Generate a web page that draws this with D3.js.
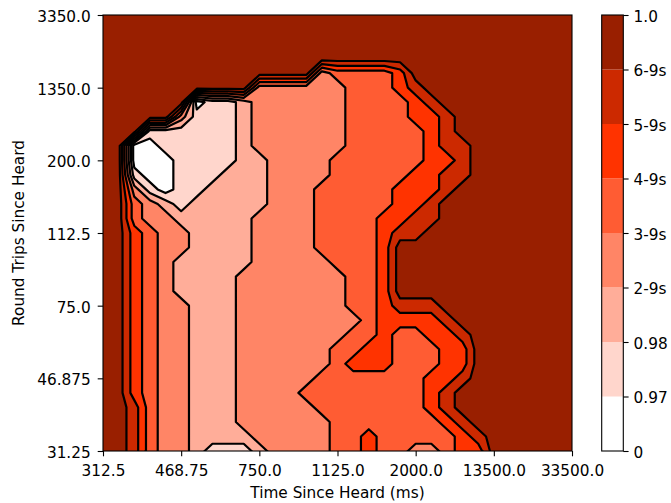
<!DOCTYPE html>
<html>
<head>
<meta charset="utf-8">
<script src="https://cdn.jsdelivr.net/npm/d3@7"></script>
<style>
  body { margin: 0; background: #fff; }
  text { font-family: "DejaVu Sans", sans-serif; }
</style>
</head>
<body>
<div id="chart"></div>
<script>
// tick labels of both axes and of the colour bar
var xLabels = ["312.5", "468.75", "750.0", "1125.0", "2000.0", "13500.0", "33500.0"];
var yLabels = ["31.25", "46.875", "75.0", "112.5", "200.0", "1350.0", "3350.0"];
var levelLabels = ["0", "0.97", "0.98", "2-9s", "3-9s", "4-9s", "5-9s", "6-9s", "1.0"];
var levelColors = ["#ffffff", "#ffd6cc", "#ffad99", "#ff8566", "#ff5c33", "#ff3300", "#cc2900", "#991f00"];

// band index (0 = below 0.97 ... 7 = above 6-9s),
// 31 columns (312.5 -> 33500.0), rows from 31.25 (first) up to 3350.0 (last)
var bandRows = [
  "7764332111 2333344544 3345577777 7",
  "7764332222 3333344544 4445677777 7",
  "7764332223 3333344444 4456777777 7",
  "7764332223 3333444444 4567777777 7",
  "7754332223 3334444444 4567777777 7",
  "7754332223 3333444444 4556777777 7",
  "7754332223 3333345554 4455777777 7",
  "7754332223 3333344554 4455777777 7",
  "7754332223 3333334454 4556777777 7",
  "7754332223 3333333455 5567777777 7",
  "7754332223 3333334456 6677777777 7",
  "7754322223 3333334457 7777777777 7",
  "7754322223 3333334457 7777777777 7",
  "7754322222 3333344457 7777777777 7",
  "7754332222 3333444457 7777777777 7",
  "7754332222 3333444456 6777777777 7",
  "7743322222 3333444455 6677777777 7",
  "7743212222 2333444445 5677777777 7",
  "7731011222 2333444445 5567777777 7",
  "7710011122 2333344444 5566777777 7",
  "7700011112 2333344444 4556777777 7",
  "7700111112 3333334444 4566777777 7",
  "7771111112 3333334444 4567777777 7",
  "7777731112 3333334444 5567777777 7",
  "7777770112 3333334444 5677777777 7",
  "7777777777 3333334445 6777777777 7",
  "7777777777 7777344445 7777777777 7",
  "7777777777 7777777777 7777777777 7",
  "7777777777 7777777777 7777777777 7",
  "7777777777 7777777777 7777777777 7",
  "7777777777 7777777777 7777777777 7"
];

const width = 671, height = 503;
const plot = { left: 103, right: 572, top: 15, bottom: 451 };
const bar = { left: 601.7, right: 623.3 };
const fs = "15.3px";

var svg = d3.select("#chart").append("svg")
  .attr("width", width)
  .attr("height", height);

// grid values: middle of each band
var grid = bandRows.map(r => r.replace(/ /g, "").split("").map(Number));
var ny = grid.length, nx = grid[0].length;
var values = [];
grid.forEach(r => r.forEach(v => values.push(v + 0.5)));

var gx = d3.scaleLinear().domain([0.5, nx - 0.5]).range([plot.left, plot.right]);
var gy = d3.scaleLinear().domain([0.5, ny - 0.5]).range([plot.bottom, plot.top]);
var path = d3.geoPath(d3.geoTransform({
  point: function (x, y) { this.stream.point(gx(x), gy(y)); }
}));

var contours = d3.contours().size([nx, ny]).thresholds(d3.range(1, 8))(values);

svg.append("clipPath").attr("id", "clip")
  .append("rect")
  .attr("x", plot.left).attr("y", plot.top)
  .attr("width", plot.right - plot.left).attr("height", plot.bottom - plot.top);

var area = svg.append("g").attr("clip-path", "url(#clip)");

area.append("rect")
  .attr("x", plot.left).attr("y", plot.top)
  .attr("width", plot.right - plot.left).attr("height", plot.bottom - plot.top)
  .attr("fill", levelColors[0]);

area.selectAll(".band")
  .data(contours)
  .join("path")
  .attr("class", "band")
  .attr("d", path)
  .attr("fill", d => levelColors[d.value]);

area.selectAll(".line")
  .data(contours)
  .join("path")
  .attr("class", "line")
  .attr("d", path)
  .attr("fill", "none")
  .attr("stroke", "#000")
  .attr("stroke-width", 2.2)
  .attr("stroke-linejoin", "round");

// frame
svg.append("rect")
  .attr("x", plot.left).attr("y", plot.top)
  .attr("width", plot.right - plot.left).attr("height", plot.bottom - plot.top)
  .attr("fill", "none").attr("stroke", "#000").attr("stroke-width", 1.1);

// axes
var x = d3.scalePoint().domain(xLabels).range([plot.left, plot.right]);
var y = d3.scalePoint().domain(yLabels).range([plot.bottom, plot.top]);

var xAxis = svg.append("g")
  .attr("transform", "translate(0," + plot.bottom + ")")
  .call(d3.axisBottom(x).tickSize(5.3).tickPadding(8.8));
var yAxis = svg.append("g")
  .attr("transform", "translate(" + plot.left + ",0)")
  .call(d3.axisLeft(y).tickSize(5.3).tickPadding(7));
yAxis.selectAll("text").attr("dy", "0.42em");

// colour bar
var cb = d3.scaleLinear().domain([0, 8]).range([plot.bottom, plot.top]);
svg.append("g").selectAll("rect")
  .data(d3.range(8))
  .join("rect")
  .attr("x", bar.left)
  .attr("width", bar.right - bar.left)
  .attr("y", d => cb(d + 1))
  .attr("height", d => cb(d) - cb(d + 1))
  .attr("fill", d => levelColors[d]);
svg.append("rect")
  .attr("x", bar.left).attr("y", plot.top)
  .attr("width", bar.right - bar.left).attr("height", plot.bottom - plot.top)
  .attr("fill", "none").attr("stroke", "#000").attr("stroke-width", 1.1);
var cAxis = svg.append("g")
  .attr("transform", "translate(" + bar.right + ",0)")
  .call(d3.axisRight(cb).tickValues(d3.range(9)).tickFormat(i => levelLabels[i]).tickSize(5.3).tickPadding(5));
cAxis.selectAll("text").attr("dy", "0.42em");

[xAxis, yAxis, cAxis].forEach(function (g) {
  g.select(".domain").remove();
  g.selectAll("line").attr("stroke", "#000").attr("stroke-width", 1.1);
  g.selectAll("text").attr("fill", "#000").style("font-size", fs).style("font-family", "DejaVu Sans");
});

// axis titles
svg.append("text")
  .attr("x", (plot.left + plot.right) / 2)
  .attr("y", 497.5)
  .attr("text-anchor", "middle")
  .style("font-size", fs)
  .text("Time Since Heard (ms)");
svg.append("text")
  .attr("transform", "translate(24," + (plot.top + plot.bottom) / 2 + ") rotate(-90)")
  .attr("text-anchor", "middle")
  .style("font-size", fs)
  .text("Round Trips Since Heard");
</script>
</body>
</html>
